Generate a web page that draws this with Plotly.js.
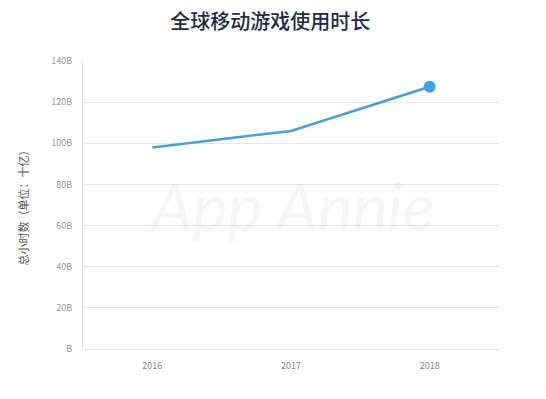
<!DOCTYPE html>
<html><head><meta charset="utf-8">
<script src="https://cdn.plot.ly/plotly-3.0.1.min.js"></script>
<style>body{margin:0;background:#fff}#c{width:546px;height:399px}</style>
</head><body><div id="c"></div>
<script>
const years = ['2016', '2017', '2018'];
const hours = [98, 106, 127.5];
const yTickVals = [0, 20, 40, 60, 80, 100, 120, 140];
const yTickText = ['B', '20B', '40B', '60B', '80B', '100B', '120B', '140B'];

const traces = [
  {x: years, y: hours, type: 'scatter', mode: 'lines',
   line: {color: '#4a9fd6', width: 2.5}, hoverinfo: 'skip'},
  {x: [years[years.length-1]], y: [hours[hours.length-1]], type: 'scatter', mode: 'markers',
   marker: {color: '#40a3e6', size: 12}, hoverinfo: 'skip'}
];
const layout = {
  width: 546, height: 399,
  margin: {l: 83, r: 47, t: 61, b: 50},
  paper_bgcolor: '#fff', plot_bgcolor: '#fff',
  showlegend: false,
  font: {family: '"Noto Sans CJK SC", "Noto Sans", sans-serif'},
  title: {text: '全球移动游戏使用时长', x: 0.495, xanchor: 'center', y: 0.945, yanchor: 'middle',
          font: {size: 20, color: '#1e2a48', weight: 500, family: '"Noto Sans CJK SC", sans-serif'}},
  xaxis: {type: 'category', range: [-0.5, 2.5], showgrid: false, zeroline: false,
          showline: true, linecolor: '#e3e3e3', linewidth: 1, ticks: '',
          ticklabelstandoff: 8,
          tickfont: {size: 9, color: '#888'}, fixedrange: true},
  yaxis: {range: [0, 140], tickvals: yTickVals, ticktext: yTickText,
          showgrid: true, gridcolor: '#e6e6e6', gridwidth: 1, zeroline: false,
          showline: true, linecolor: '#e3e3e3', linewidth: 1, ticks: '',
          ticklabelstandoff: 8,
          tickfont: {size: 9, color: '#999'},
          title: {text: '总小时数（单位：十亿）', standoff: 20, font: {size: 11, color: '#555'}},
          fixedrange: true},
  annotations: [{text: 'App Annie', x: 0.5, y: 0.5, xref: 'paper', yref: 'paper',
                 showarrow: false, font: {size: 66, color: 'rgba(0,0,0,0.035)', style: 'italic', family: 'Lato, sans-serif'},
                 textangle: 0}]
};
Plotly.newPlot('c', traces, layout, {staticPlot: true});
</script></body></html>
